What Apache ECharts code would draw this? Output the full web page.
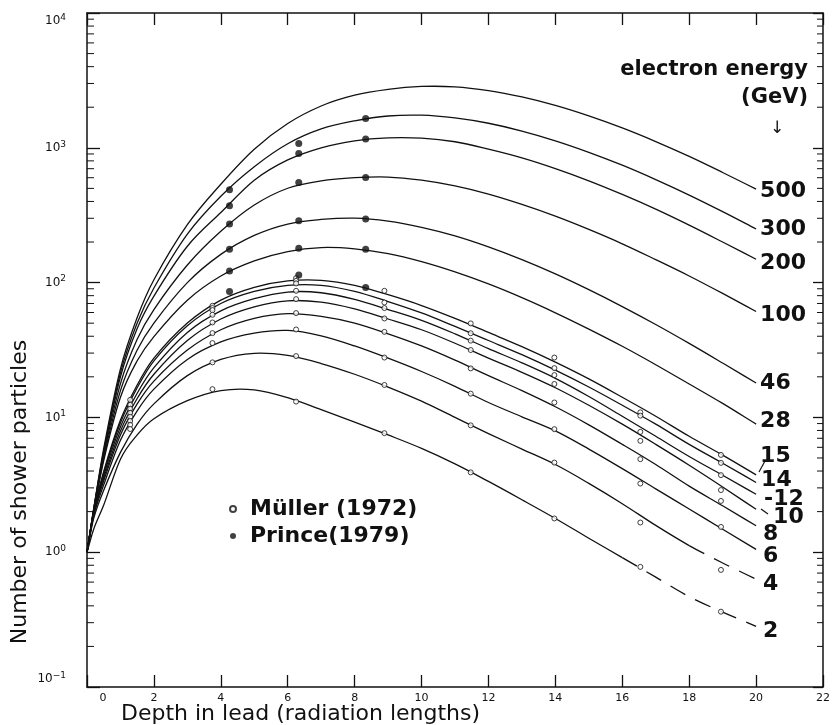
<!DOCTYPE html>
<html>
<head>
<meta charset="utf-8">
<title>Shower particles vs depth in lead</title>
<script src="https://cdn.jsdelivr.net/npm/echarts@6/dist/echarts.min.js"></script>
<style>
html, body { margin: 0; padding: 0; background: #fff; }
#chart { width: 833px; height: 725px; }
</style>
</head>
<body>
<div id="chart"></div>
<script>
// depth in radiation lengths where the curves were read
const depth = [0, 0.2, 0.5, 1, 1.5, 2, 3, 4, 5, 6, 7, 8, 9, 10, 11, 12, 13, 14, 15, 16, 17, 18, 19, 20];

// number of shower particles, one array per electron energy (GeV)
const n500 = [1, 2.09, 5.89, 22.9, 55.0, 105, 269, 537, 977, 1514, 2042, 2455, 2716, 2851, 2831, 2655, 2382, 2061, 1723, 1403, 1112, 863, 656, 494];
const n300 = [1, 2.09, 5.62, 21.4, 50.1, 91.2, 229, 437, 724, 1072, 1380, 1585, 1722, 1746, 1667, 1521, 1332, 1127, 926, 743, 581, 446, 336, 250];
const n200 = [1, 2.09, 5.50, 20.0, 45.7, 79.4, 186, 331, 575, 813, 1000, 1127, 1186, 1180, 1109, 977, 842, 701, 569, 451, 351, 267, 200, 149];
const n100 = [1, 2.04, 5.25, 17.8, 38.0, 63.1, 135, 240, 376, 501, 569, 600, 607, 575, 521, 453, 380, 311, 248, 194, 148, 112, 83.1, 61];
const n46 = [1, 2.0, 5.01, 15.8, 31.6, 50.1, 100, 162, 224, 272, 294, 301, 286, 257, 222, 184, 148, 116, 88.6, 66.4, 48.9, 35.4, 25.3, 18.0];
const n28 = [1, 2.0, 4.79, 14.1, 26.3, 39.8, 74.1, 112, 145, 170, 182, 178, 164, 143, 120, 97.7, 77.3, 59.7, 45.2, 33.7, 24.6, 17.7, 12.7, 8.91];
const n15 = [1, 2.0, 3.98, 9.55, 17.4, 27.5, 50.1, 74.1, 92.3, 103, 104, 95.5, 81.3, 67.6, 54.3, 42.7, 33.5, 25.7, 19.3, 14.1, 10.2, 7.24, 5.25, 3.75];
const n14 = [1, 2.0, 3.89, 9.12, 16.6, 26.3, 47.9, 70.0, 86.1, 95.5, 95.5, 86.1, 72.4, 59.6, 47.3, 37.2, 29.2, 22.4, 16.8, 12.3, 8.91, 6.31, 4.57, 3.29];
const n12 = [1, 1.95, 3.72, 8.51, 15.1, 23.4, 42.7, 61.7, 75.9, 85.1, 84.1, 75.0, 63.1, 52.5, 41.7, 32.4, 25.4, 19.5, 14.3, 10.2, 7.24, 5.13, 3.72, 2.69];
const n10 = [1, 1.95, 3.55, 7.94, 13.8, 20.9, 37.2, 53.7, 66.1, 73.3, 71.6, 63.8, 53.7, 44.7, 35.5, 27.5, 21.6, 16.6, 12.3, 8.91, 6.31, 4.42, 3.05, 2.08];
const n8 = [1, 1.91, 3.39, 7.41, 12.6, 18.6, 31.6, 44.7, 54.3, 58.9, 56.2, 50.1, 41.7, 33.9, 26.6, 20.4, 15.8, 12.0, 8.81, 6.31, 4.47, 3.09, 2.21, 1.57];
const n6 = [1, 1.86, 3.16, 6.76, 11.2, 16.2, 26.9, 36.3, 42.2, 44.2, 40.3, 33.9, 27.5, 21.9, 17.0, 12.9, 10.1, 7.94, 5.82, 4.17, 2.95, 2.09, 1.48, 1.05];
const n4 = [1, 1.78, 2.88, 5.50, 8.91, 12.6, 20.4, 26.9, 29.9, 28.8, 25.1, 20.9, 16.8, 13.2, 10.0, 7.59, 5.82, 4.47, 3.24, 2.29, 1.58, 1.12, 0.832, 0.631];
const n2 = [1, 1.48, 2.24, 4.90, 7.41, 9.77, 13.3, 15.8, 16.0, 14.0, 11.4, 9.23, 7.41, 5.89, 4.52, 3.35, 2.45, 1.78, 1.27, 0.912, 0.653, 0.468, 0.359, 0.282];

// Müller (1972), open circles
const mullerDepth = [
  1.29, 1.29, 1.29, 1.29, 1.29, 1.29, 1.29, 1.29,
  3.75, 3.75, 3.75, 3.75, 3.75, 3.75, 3.75, 3.75, 3.75,
  6.25, 6.25, 6.25, 6.25, 6.25, 6.25, 6.25, 6.25, 6.25,
  8.89, 8.89, 8.89, 8.89, 8.89, 8.89, 8.89, 8.89,
  11.47, 11.47, 11.47, 11.47, 11.47, 11.47, 11.47, 11.47,
  13.97, 13.97, 13.97, 13.97, 13.97, 13.97, 13.97, 13.97,
  16.54, 16.54, 16.54, 16.54, 16.54, 16.54, 16.54, 16.54,
  18.95, 18.95, 18.95, 18.95, 18.95, 18.95, 18.95, 18.95
];
const mullerCount = [
  13.5, 12.4, 11.6, 10.8, 10.1, 9.4, 8.8, 8.2,
  67.3, 64.7, 62.5, 57.7, 50.6, 42.2, 35.6, 25.6, 16.2,
  108, 103, 98.5, 86.9, 75.4, 59.4, 44.9, 28.5, 13.1,
  86.9, 71.2, 64.7, 54.2, 43.1, 27.8, 17.4, 7.64,
  49.8, 42.1, 37.1, 31.6, 23.1, 15.0, 8.73, 3.91,
  27.8, 23.2, 20.6, 17.7, 12.9, 8.18, 4.62, 1.78,
  10.9, 10.3, 7.81, 6.70, 4.90, 3.23, 1.66, 0.778,
  5.27, 4.60, 3.73, 2.89, 2.40, 1.54, 0.739, 0.362
];

// Prince (1979), filled circles
const princeDepth = [4.26, 4.26, 4.26, 4.26, 4.26, 4.26, 6.33, 6.33, 6.33, 6.33, 6.33, 6.33, 8.33, 8.33, 8.33, 8.33, 8.33, 8.33];
const princeCount = [488, 371, 272, 177, 122, 86, 1077, 908, 553, 288, 180, 114, 1651, 1161, 603, 296, 177, 92];

const yMinorTicks = [
  0.2, 0.3, 0.4, 0.5, 0.6, 0.7, 0.8, 0.9,
  2, 3, 4, 5, 6, 7, 8, 9,
  20, 30, 40, 50, 60, 70, 80, 90,
  200, 300, 400, 500, 600, 700, 800, 900,
  2000, 3000, 4000, 5000, 6000, 7000, 8000, 9000
];

const curves = [
  { label: '500', n: n500 },
  { label: '300', n: n300 },
  { label: '200', n: n200 },
  { label: '100', n: n100 },
  { label: '46', n: n46 },
  { label: '28', n: n28 },
  { label: '15', n: n15 },
  { label: '14', n: n14 },
  { label: '-12', n: n12 },
  { label: '10', n: n10 },
  { label: '8', n: n8 },
  { label: '6', n: n6 },
  { label: '4', n: n4, dashFrom: 18 },
  { label: '2', n: n2, dashFrom: 16 }
];

// end label nudges (px from the curve end)
const labelNudge = {
  '500': [4, 2], '300': [4, 0], '200': [4, 4], '100': [4, 4], '46': [4, 0], '28': [4, -3],
  '15': [4, -19], '14': [5, -2], '-12': [8, 5], '10': [17, 8], '8': [7, 8], '6': [7, 7],
  '4': [7, 5], '2': [7, 5]
};

const FONT = 'DejaVu Sans';
const INK = '#111';

function pairs(xs, ys) {
  return xs.map((x, i) => [x, ys[i]]);
}

// smooth cubic path through pixel points (x is monotone), from index a to b
function smoothPath(pts, a, b) {
  const slope = pts.map((p, i) => {
    const l = pts[Math.max(i - 1, 0)];
    const r = pts[Math.min(i + 1, pts.length - 1)];
    return (r[1] - l[1]) / (r[0] - l[0]);
  });
  let d = 'M' + pts[a][0].toFixed(2) + ' ' + pts[a][1].toFixed(2);
  for (let i = a; i < b; i++) {
    const p = pts[i], q = pts[i + 1];
    const h = (q[0] - p[0]) / 3;
    d += ' C' + (p[0] + h).toFixed(2) + ' ' + (p[1] + slope[i] * h).toFixed(2) + ' ' +
      (q[0] - h).toFixed(2) + ' ' + (q[1] - slope[i + 1] * h).toFixed(2) + ' ' +
      q[0].toFixed(2) + ' ' + q[1].toFixed(2);
  }
  return d;
}

const curveSeries = {
  type: 'custom',
  silent: true,
  z: 2,
  data: curves.map(c => [depth[depth.length - 1], c.n[c.n.length - 1]]),
  renderItem: function (params, api) {
    const c = curves[params.dataIndex];
    const pts = depth.map((d, i) => api.coord([d, c.n[i]]));
    const last = pts.length - 1;
    const cut = c.dashFrom ? depth.indexOf(c.dashFrom) : last;
    const children = [{
      type: 'path',
      shape: { pathData: smoothPath(pts, 0, cut) },
      style: { stroke: INK, lineWidth: 1.3, fill: 'none' }
    }];
    if (c.dashFrom) {
      children.push({
        type: 'path',
        shape: { pathData: smoothPath(pts, cut, last) },
        style: { stroke: INK, lineWidth: 1.3, fill: 'none', lineDash: [17, 11] }
      });
    }
    const nudge = labelNudge[c.label];
    children.push({
      type: 'text',
      x: pts[last][0] + nudge[0],
      y: pts[last][1] + nudge[1],
      style: {
        text: c.label, fill: INK, fontFamily: FONT, fontWeight: 'bold', fontSize: 22,
        align: 'left', verticalAlign: 'middle'
      }
    });
    return { type: 'group', children: children };
  }
};

// minor log ticks on the left and right frame
const minorTickSeries = {
  type: 'custom',
  silent: true,
  z: 3,
  data: yMinorTicks.map(v => [0, v]),
  renderItem: function (params, api) {
    const cs = params.coordSys;
    const y = api.coord([api.value(0), api.value(1)])[1];
    const style = { stroke: INK, lineWidth: 1 };
    return {
      type: 'group',
      children: [
        { type: 'line', shape: { x1: cs.x, y1: y, x2: cs.x + 7, y2: y }, style: style },
        { type: 'line', shape: { x1: cs.x + cs.width - 6, y1: y, x2: cs.x + cs.width, y2: y }, style: style }
      ]
    };
  }
};

const supMap = { '-1': '−1', '0': '0', '1': '1', '2': '2', '3': '3', '4': '4' };

const option = {
  animation: false,
  backgroundColor: '#fff',
  grid: { left: 87, right: 7, top: 13, bottom: 38 },
  legend: {
    data: ['Müller (1972)', 'Prince(1979)'],
    orient: 'vertical',
    left: 224,
    top: 493,
    itemWidth: 6,
    itemHeight: 6,
    itemGap: 5,
    selectedMode: false,
    textStyle: { fontFamily: FONT, fontWeight: 'bold', fontSize: 22, color: INK, lineHeight: 22, padding: [0, 0, 0, 9] }
  },
  xAxis: [
    {
      type: 'value',
      min: 0,
      max: 22,
      interval: 2,
      axisLine: { show: true, onZero: false, lineStyle: { color: INK, width: 1.5 } },
      axisTick: { show: true, inside: true, length: 12, lineStyle: { color: INK, width: 1.3 } },
      splitLine: { show: false },
      axisLabel: {
        margin: 6,
        color: INK,
        fontFamily: FONT,
        fontSize: 11,
        showMinLabel: true,
        showMaxLabel: true,
        formatter: function (v) { return v === 0 ? '{z|0}' : String(v); },
        rich: { z: { fontFamily: FONT, fontSize: 11, color: INK, padding: [0, 0, 0, 32] } }
      }
    },
    {
      type: 'value',
      position: 'top',
      min: 0,
      max: 22,
      interval: 2,
      axisLine: { show: true, onZero: false, lineStyle: { color: INK, width: 1.5 } },
      axisTick: { show: true, inside: true, length: 12, lineStyle: { color: INK, width: 1.3 } },
      axisLabel: { show: false },
      splitLine: { show: false }
    }
  ],
  yAxis: [
    {
      type: 'log',
      logBase: 10,
      min: 0.1,
      max: 10000,
      axisLine: { show: true, onZero: false, lineStyle: { color: INK, width: 1.5 } },
      axisTick: { show: true, inside: true, length: 13, lineStyle: { color: INK, width: 1.3 } },
      splitLine: { show: false },
      axisLabel: {
        margin: 21,
        color: INK,
        showMinLabel: true,
        showMaxLabel: true,
        verticalAlignMaxLabel: 'top',
        verticalAlignMinLabel: 'bottom',
        formatter: function (v) {
          const e = Math.round(Math.log10(v));
          return '{b|10}{s|' + supMap[String(e)] + '}';
        },
        rich: {
          b: { fontFamily: FONT, fontSize: 12, color: INK },
          s: { fontFamily: FONT, fontSize: 9, color: INK, padding: [0, 0, 7, 0] }
        }
      }
    },
    {
      type: 'log',
      logBase: 10,
      position: 'right',
      min: 0.1,
      max: 10000,
      axisLine: { show: true, onZero: false, lineStyle: { color: INK, width: 1.5 } },
      axisTick: { show: true, inside: true, length: 10, lineStyle: { color: INK, width: 1.3 } },
      axisLabel: { show: false },
      splitLine: { show: false }
    }
  ],
  graphic: [
    {
      type: 'text', left: 121, top: 703,
      style: { text: 'Depth in lead (radiation lengths)', fontFamily: FONT, fontSize: 22, fill: INK }
    },
    {
      type: 'text', x: 20, y: 492, rotation: Math.PI / 2,
      style: { text: 'Number of shower particles', fontFamily: FONT, fontSize: 22, fill: INK, align: 'center', verticalAlign: 'middle' }
    },
    {
      type: 'text', x: 808, y: 70,
      style: { text: 'electron energy', fontFamily: FONT, fontWeight: 'bold', fontSize: 21, fill: INK, align: 'right', verticalAlign: 'middle' }
    },
    {
      type: 'text', x: 808, y: 98,
      style: { text: '(GeV)', fontFamily: FONT, fontWeight: 'bold', fontSize: 21, fill: INK, align: 'right', verticalAlign: 'middle' }
    },
    {
      type: 'text', x: 777, y: 129,
      style: { text: '↓', fontFamily: FONT, fontSize: 17, fill: INK, align: 'center', verticalAlign: 'middle' }
    },
    // leader strokes beside the 15 and 10 labels
    { type: 'polyline', shape: { points: [[759, 472], [765, 461]] }, style: { stroke: INK, lineWidth: 1.2, fill: null } },
    { type: 'polyline', shape: { points: [[761, 509], [768, 514]] }, style: { stroke: INK, lineWidth: 1.2, fill: null } }
  ],
  series: [
    curveSeries,
    {
      name: 'Müller (1972)',
      type: 'scatter',
      symbol: 'circle',
      symbolSize: 5,
      itemStyle: { color: '#fff', borderColor: INK, borderWidth: 1 },
      data: pairs(mullerDepth, mullerCount),
      z: 4
    },
    {
      name: 'Prince(1979)',
      type: 'scatter',
      symbol: 'circle',
      symbolSize: 7,
      itemStyle: { color: INK },
      data: pairs(princeDepth, princeCount),
      z: 4
    },
    minorTickSeries
  ]
};

const chart = echarts.init(document.getElementById('chart'), null, { renderer: 'canvas' });
chart.setOption(option);
window.addEventListener('resize', function () { chart.resize(); });
</script>
</body>
</html>
